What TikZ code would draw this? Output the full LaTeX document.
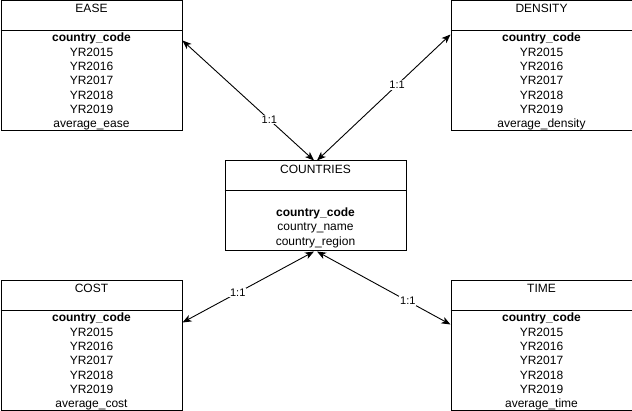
\documentclass[tikz,border=0pt]{standalone}
\usepackage{fontspec}
\setmainfont{Liberation Sans}
\usetikzlibrary{arrows.meta,calc}
\tikzset{
  erbox/.style={draw, line width=1pt, inner sep=0pt, anchor=north west, minimum width=181pt},
  ertext/.style={inner sep=0pt, anchor=base, font=\fontsize{12}{14}\selectfont},
  rel/.style={line width=0.9pt, {Stealth[length=9pt,width=7pt,inset=2.5pt]}-{Stealth[length=9pt,width=7pt,inset=2.5pt]}},
  card/.style={fill=white, inner sep=1pt, font=\fontsize{11}{13}\selectfont},
}
% #1 name, #2 position of north west corner, #3 title, #4 title baseline offset, #5 rows
\newcommand\erentity[5]{%
  \node[erbox] (#1) at (#2) {};
  \node[ertext] (#1-t) at ($(#1.north)+(0,#4)$) {#3};
  \draw[line width=1pt] ($(#1.north west)+(0,30)$) -- ($(#1.north east)+(0,30)$);
  \foreach \t [count=\i] in {#5} {
    \node[ertext] (#1-r\i) at ($(#1.north)+(0,{41.5+(\i-1)*14.3})$) {\t};
  }%
}
\begin{document}
\begin{tikzpicture}[x=1pt,y=-1pt]
\useasboundingbox (0,0) rectangle (632,411);
\tikzset{erbox/.append style={minimum height=130pt}}
\erentity{ease}{0.5,0.5}{EASE}{12}{\textbf{country\_code},YR2015,YR2016,YR2017,YR2018,YR2019,average\_ease}
\erentity{density}{450.5,0.5}{DENSITY}{12}{\textbf{country\_code},YR2015,YR2016,YR2017,YR2018,YR2019,average\_density}
\erentity{cost}{0.5,280.5}{COST}{12}{\textbf{country\_code},YR2015,YR2016,YR2017,YR2018,YR2019,average\_cost}
\erentity{time}{450.5,280.5}{TIME}{12}{\textbf{country\_code},YR2015,YR2016,YR2017,YR2018,YR2019,average\_time}
\begin{scope}[erbox/.append style={minimum height=90pt}]
\node[erbox] (countries) at (224.5,160.5) {};
\node[ertext] (countries-t) at ($(countries.north)+(0,13.5)$) {COUNTRIES};
\draw[line width=1pt] ($(countries.north west)+(0,30)$) -- ($(countries.north east)+(0,30)$);
\node[ertext] (countries-r1) at ($(countries.north)+(0,56.2)$) {\textbf{country\_code}};
\node[ertext] (countries-r2) at ($(countries.north)+(0,70.5)$) {country\_name};
\node[ertext] (countries-r3) at ($(countries.north)+(0,84.8)$) {country\_region};
\end{scope}
\coordinate (eA) at ($(ease.north east)+(0,40)$);
\coordinate (dA) at ($(density.north west)+(0,34)$);
\coordinate (cA) at ($(cost.north east)+(0,42)$);
\coordinate (tA) at ($(time.north west)+(0,44)$);
\coordinate (kT1) at ($(countries.north)+(-1.5,0)$);
\coordinate (kT2) at ($(countries.north)+(1.5,0)$);
\coordinate (kB1) at ($(countries.south)+(-1.5,0)$);
\coordinate (kB2) at ($(countries.south)+(1.5,0)$);
\draw[rel] (eA) -- node[card,pos=0.66] (l1) {1:1} (kT1);
\draw[rel] (dA) -- node[card,pos=0.4] (l2) {1:1} (kT2);
\draw[rel] (cA) -- node[card,pos=0.42] (l3) {1:1} (kB1);
\draw[rel] (tA) -- node[card,pos=0.32] (l4) {1:1} (kB2);
\end{tikzpicture}
\end{document}
